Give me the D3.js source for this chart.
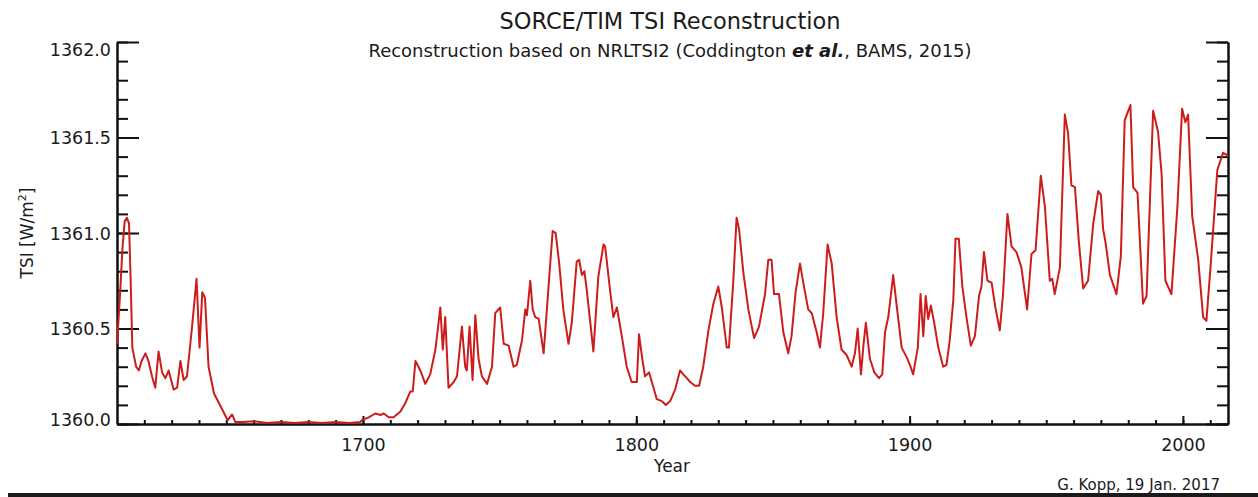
<!DOCTYPE html>
<html>
<head>
<meta charset="utf-8">
<script src="https://cdn.jsdelivr.net/npm/d3@7"></script>
<style>
  body { margin: 0; background: #fff; }
  svg { display: block; }
  text { font-family: "DejaVu Sans", sans-serif; fill: #1a1a1a; }
</style>
</head>
<body>
<svg width="1258" height="497"></svg>
<script>
// TSI reconstruction, values (year, W/m^2)
var years = [
  1610, 1611, 1612, 1612.8, 1613.6, 1614.4, 1615, 1615.6, 1617, 1618, 1619, 1620.4, 1621.5, 1622.8, 1624,
  1625.2, 1626.5, 1627.7, 1628.9, 1630.7, 1632, 1633.2, 1634.4, 1635.6, 1637.4, 1639.1, 1640.2, 1641.2, 1642.2,
  1643.5, 1645.5, 1648, 1650.5, 1652.1, 1653.3, 1656, 1660, 1665, 1670, 1675, 1680, 1685, 1690, 1695, 1699,
  1699.6, 1702.1, 1704.5, 1706.4, 1707.6, 1709.4, 1711.2, 1713.7, 1715.5, 1717.3, 1718.2, 1719.2, 1721, 1722.8,
  1724.6, 1726.5, 1728.3, 1729.2, 1730.1, 1731.3, 1733.2, 1734.4, 1736.2, 1737.4, 1738, 1739, 1740.1, 1741.1,
  1742.3, 1743.5, 1745.4, 1747.2, 1748.4, 1750.2, 1751.5, 1753.3, 1755.1, 1756.3, 1758.2, 1759.4, 1760, 1761.2,
  1762.1, 1763, 1764.3, 1766.1, 1767.9, 1769.4, 1770.5, 1771.8, 1773.3,
  1775.2, 1776.4, 1778.2, 1779.1, 1780.1, 1781, 1781.9, 1784.3, 1786.1, 1788, 1788.6, 1790.4, 1791.6, 1792.9,
  1794.7, 1796.5, 1798.3, 1800.2, 1801, 1802.2, 1803.2, 1804.7, 1806.3, 1807.5, 1809.3, 1810.8, 1812.4, 1814.2,
  1816, 1817.2, 1818.5, 1819.7, 1821.5, 1823, 1824.5, 1826.4, 1828.2, 1830, 1831.3, 1833.1, 1833.9, 1835.5,
  1836.7, 1837.6, 1839.2, 1841, 1843.1, 1844.9, 1847.1, 1848.3, 1849.5, 1850.4,
  1852.2, 1853.8, 1855.6, 1856.8, 1858.3, 1859.9, 1861.1, 1862.9, 1864.2, 1866, 1867.2, 1868.4, 1870, 1871.5,
  1873.3, 1875.1, 1877, 1878.8, 1880, 1881, 1882.2, 1883.1, 1884, 1885.5, 1887.1, 1888.8, 1890, 1891, 1892.2,
  1894, 1895.6, 1897.1, 1898.9, 1900.1, 1901.3, 1903, 1904, 1905, 1905.9, 1906.8, 1907.8, 1909, 1910.5, 1912.3,
  1913.5, 1914.7, 1916, 1916.8, 1918, 1919.3, 1920.8, 1922.4, 1923.9, 1925.4, 1926.3, 1927.2, 1928.5, 1930,
  1931.4, 1933,
  1934.2, 1935.8, 1937.3, 1939.1, 1940.9, 1943, 1944.6, 1946.1, 1948, 1949.5, 1951.3, 1952.2, 1953.1, 1955,
  1956.8, 1958, 1959.2, 1960.5, 1961.9, 1963.5, 1965.3, 1967.2, 1969, 1970, 1970.8, 1971.7, 1973.3, 1975.7,
  1977.3, 1978.7, 1980.8, 1981.8, 1983.4, 1985.4, 1986.7, 1989.1, 1990.9, 1992.2, 1993.6, 1995.8, 1998, 1999.7,
  2000.9, 2001.9, 2003.4, 2005.6, 2007.4, 2008.6, 2010.2, 2012.6, 2014.7, 2015.9, 2016.4
];
var tsi = [
  1360.42, 1360.65, 1360.92, 1361.06, 1361.08, 1361.05, 1360.75, 1360.40, 1360.30, 1360.28, 1360.33, 1360.37, 1360.33, 1360.25, 1360.19,
  1360.38, 1360.27, 1360.24, 1360.28, 1360.18, 1360.19, 1360.33, 1360.23, 1360.25, 1360.50, 1360.76, 1360.40, 1360.69, 1360.66,
  1360.30, 1360.16, 1360.09, 1360.02, 1360.05, 1360.01, 1360.01, 1360.015, 1360.005, 1360.01, 1360.005, 1360.01, 1360.005, 1360.01, 1360.005, 1360.01,
  1360.02, 1360.035, 1360.055, 1360.047, 1360.055, 1360.035, 1360.035, 1360.065, 1360.11, 1360.17, 1360.17, 1360.33, 1360.28, 1360.21,
  1360.26, 1360.39, 1360.61, 1360.39, 1360.56, 1360.19, 1360.22, 1360.25, 1360.51, 1360.30, 1360.28, 1360.51, 1360.23, 1360.57,
  1360.34, 1360.25, 1360.21, 1360.30, 1360.58, 1360.61, 1360.42, 1360.41, 1360.30, 1360.31, 1360.44, 1360.60, 1360.57, 1360.75,
  1360.60, 1360.56, 1360.55, 1360.37, 1360.72, 1361.01, 1361.00, 1360.84, 1360.60,
  1360.42, 1360.53, 1360.85, 1360.86, 1360.78, 1360.80, 1360.70, 1360.38, 1360.77, 1360.94, 1360.93, 1360.70, 1360.56, 1360.61,
  1360.46, 1360.30, 1360.22, 1360.22, 1360.47, 1360.34, 1360.25, 1360.27, 1360.19, 1360.13, 1360.12, 1360.10, 1360.12, 1360.18,
  1360.28, 1360.26, 1360.24, 1360.22, 1360.20, 1360.20, 1360.30, 1360.49, 1360.63, 1360.72, 1360.61, 1360.40, 1360.40, 1360.75,
  1361.08, 1361.02, 1360.79, 1360.60, 1360.45, 1360.51, 1360.68, 1360.86, 1360.86, 1360.68,
  1360.68, 1360.48, 1360.37, 1360.46, 1360.69, 1360.84, 1360.74, 1360.60, 1360.58, 1360.48, 1360.40, 1360.58, 1360.94, 1360.84,
  1360.56, 1360.39, 1360.36, 1360.30, 1360.37, 1360.50, 1360.26, 1360.41, 1360.53, 1360.34, 1360.27, 1360.24, 1360.26, 1360.48, 1360.56,
  1360.78, 1360.58, 1360.40, 1360.35, 1360.31, 1360.26, 1360.40, 1360.68, 1360.46, 1360.67, 1360.55, 1360.62, 1360.53, 1360.40, 1360.30,
  1360.31, 1360.44, 1360.65, 1360.97, 1360.97, 1360.72, 1360.56, 1360.41, 1360.46, 1360.67, 1360.72, 1360.90, 1360.75, 1360.74,
  1360.61, 1360.49,
  1360.68, 1361.10, 1360.93, 1360.90, 1360.82, 1360.60, 1360.89, 1360.91, 1361.30, 1361.14, 1360.75, 1360.76, 1360.68, 1360.82,
  1361.62, 1361.52, 1361.25, 1361.24, 1360.96, 1360.71, 1360.75, 1361.05, 1361.22, 1361.20, 1361.02, 1360.95, 1360.78, 1360.68,
  1360.88, 1361.59, 1361.67, 1361.24, 1361.21, 1360.63, 1360.67, 1361.64, 1361.53, 1361.31, 1360.75, 1360.68, 1361.14, 1361.65,
  1361.58, 1361.62, 1361.09, 1360.86, 1360.56, 1360.54, 1360.84, 1361.33, 1361.42, 1361.41, 1361.40
];
var yearTicks = [1700, 1800, 1900, 2000];
var yearMinor = d3.range(1620, 2017, 10);
var tsiTicks = [1360.0, 1360.5, 1361.0, 1361.5, 1362.0];
var tsiMinor = d3.range(13600, 13621, 1).map(function(d){ return d / 10; });

var svg = d3.select("svg");
var mLeft = 117, mRight = 1228, mTop = 42, mBottom = 424;

var x = d3.scaleLinear().domain([1610, 2016.5]).range([mLeft, mRight]);
var y = d3.scaleLinear().domain([1360, 1362]).range([mBottom, mTop]);

// axes, IDL style: ticks pointing inwards
svg.append("g").attr("transform", "translate(" + mLeft + ",0)")
  .call(d3.axisLeft(y).tickValues(tsiMinor).tickSize(-11).tickSizeOuter(0).tickFormat(""));
svg.append("g").attr("class", "ylab").attr("transform", "translate(" + mLeft + ",0)")
  .call(d3.axisLeft(y).tickValues(tsiTicks).tickSize(-22).tickSizeOuter(0).tickPadding(6).tickFormat(d3.format(".1f")));
svg.append("g").attr("transform", "translate(" + mRight + ",0)")
  .call(d3.axisRight(y).tickValues(tsiMinor).tickSize(-11).tickSizeOuter(0).tickFormat(""));
svg.append("g").attr("transform", "translate(" + mRight + ",0)")
  .call(d3.axisRight(y).tickValues(tsiTicks).tickSize(-22).tickSizeOuter(0).tickFormat(""));
svg.append("g").attr("transform", "translate(0," + mBottom + ")")
  .call(d3.axisBottom(x).tickValues(yearMinor).tickSize(-4).tickSizeOuter(0).tickFormat(""));
svg.append("g").attr("class", "xlab").attr("transform", "translate(0," + mBottom + ")")
  .call(d3.axisBottom(x).tickValues(yearTicks).tickSize(-8).tickSizeOuter(0).tickPadding(15).tickFormat(d3.format("d")));

svg.selectAll(".domain").attr("stroke", "#111").attr("stroke-width", 2);
svg.selectAll(".tick line").attr("stroke", "#111").attr("stroke-width", 2);
svg.selectAll(".tick text").style("font-family", "DejaVu Sans").style("font-size", "17.5px").attr("fill", "#1a1a1a");
// end labels sit a bit inside the box
svg.selectAll(".ylab .tick text").attr("dy", function(d){ return d == 1362 ? "0.75em" : (d == 1360 ? "0.1em" : "0.36em"); });

// the curve
var line = d3.line()
  .x(function(d, i){ return x(years[i]); })
  .y(function(d){ return y(d); });
svg.append("path")
  .attr("d", line(tsi))
  .attr("fill", "none")
  .attr("stroke", "#cc1c1c")
  .attr("stroke-width", 2)
  .attr("stroke-linejoin", "round");

// titles and labels
svg.append("text").attr("x", 670).attr("y", 29).attr("text-anchor", "middle")
  .style("font-size", "22.5px").text("SORCE/TIM TSI Reconstruction");
var sub = svg.append("text").attr("x", 670).attr("y", 57).attr("text-anchor", "middle").style("font-size", "18px");
sub.append("tspan").text("Reconstruction based on NRLTSI2 (Coddington ");
sub.append("tspan").style("font-weight", "bold").style("font-style", "italic").text("et al.");
sub.append("tspan").text(", BAMS, 2015)");

var yl = svg.append("text").attr("transform", "translate(33," + ((mTop + mBottom) / 2) + ") rotate(-90)")
  .attr("text-anchor", "middle").style("font-size", "17px");
yl.append("tspan").text("TSI [W/m");
yl.append("tspan").attr("dy", -7).style("font-size", "11px").text("2");
yl.append("tspan").attr("dy", 7).text("]");

svg.append("text").attr("x", 672).attr("y", 472).attr("text-anchor", "middle")
  .style("font-size", "17px").text("Year");
svg.append("text").attr("x", 1220).attr("y", 490).attr("text-anchor", "end")
  .style("font-size", "15px").text("G. Kopp, 19 Jan. 2017");

// dark rule along the bottom edge
svg.append("rect").attr("x", 8).attr("y", 493).attr("width", 1250).attr("height", 4).attr("fill", "#1a1a1a");
</script>
</body>
</html>
